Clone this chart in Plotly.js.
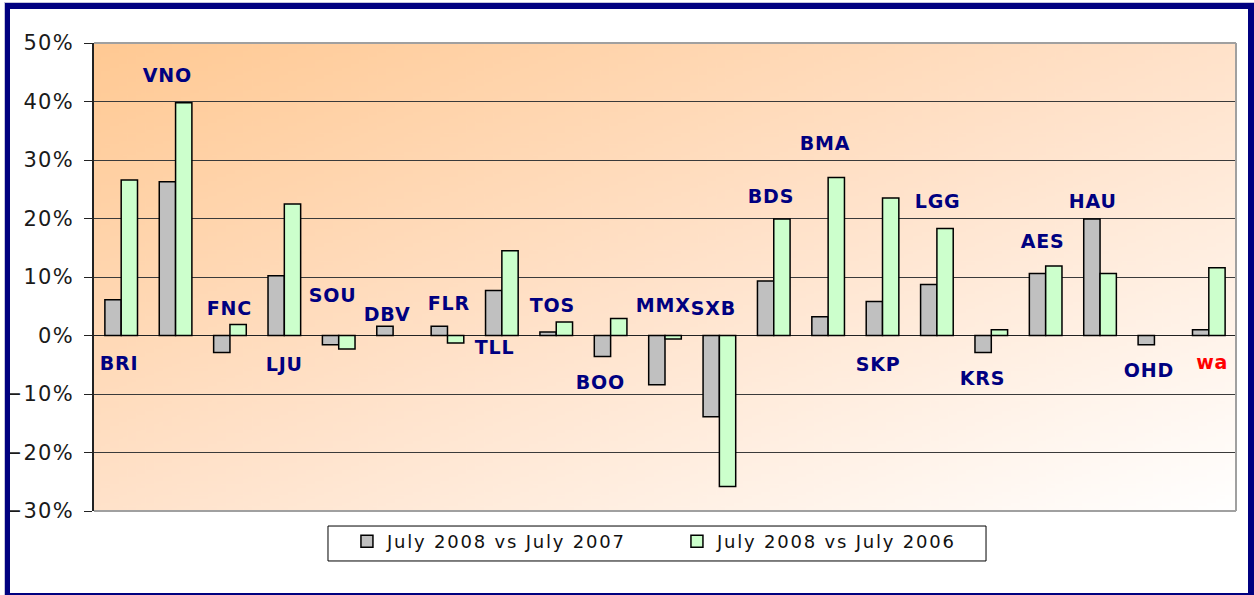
<!DOCTYPE html>
<html>
<head>
<meta charset="utf-8">
<script src="https://cdn.plot.ly/plotly-3.0.1.min.js"></script>
<style>
html,body{margin:0;padding:0;background:#fff;overflow:hidden;width:1254px;height:595px}
#chart{width:1254px;height:595px;position:absolute;left:0;top:0}
#frame{position:absolute;left:5px;top:3px;width:1249px;height:596px;box-sizing:border-box;
  border:6px solid #000080;border-left-width:5px;pointer-events:none;outline:1px solid #c4c4dc}
.main-svg .legendtext{letter-spacing:1.8px}
.main-svg .ytick text{letter-spacing:1.2px}
.main-svg .annotation-text{letter-spacing:0.8px}
</style>
</head>
<body>
<div id="chart"></div>
<div id="frame"></div>
<script>
// ---- data ----
var airports = ["BRI","VNO","FNC","LJU","SOU","DBV","FLR","TLL","TOS","BOO","MMX","SXB","BDS","BMA","SKP","LGG","KRS","AES","HAU","OHD","wa"];
var vs2007 = [6.1, 26.3, -2.9, 10.2, -1.6, 1.6, 1.6, 7.7, 0.6, -3.6, -8.4, -13.9, 9.3, 3.2, 5.8, 8.7, -2.9, 10.6, 19.9, -1.6, 1.0];
var vs2006 = [26.6, 39.8, 1.9, 22.5, -2.3, null, -1.3, 14.5, 2.3, 2.9, -0.6, -25.8, 19.9, 27.0, 23.5, 18.3, 1.0, 11.9, 10.6, null, 11.6];
var seriesNames = ["July 2008 vs July 2007", "July 2008 vs July 2006"];

// ---- label placement (styling) ----
var labelY = [-4.7, 44.5, 4.7, -4.9, 6.9, 3.6, 5.5, -2.0, 5.2, -7.9, 5.2, 4.75, 23.9, 32.9, -4.9, 23.0, -7.2, 16.2, 23.0, -5.9, -4.5];
var labelShift = [-2.5, -7.8, 0, 0, -6, -6, 2, -7, -4, -10, -2, -5.6, -3, -3, -5, 1, -9, -3, -8, -5.5, 3.6];

function gradientURL(){
  var c = document.createElement('canvas'); c.width = 256; c.height = 256;
  var g = c.getContext('2d');
  var gr = g.createLinearGradient(0,0,256,256);
  gr.addColorStop(0,'#FFC993');
  gr.addColorStop(0.5,'#FFE2CA');
  gr.addColorStop(1,'#FFFFFF');
  g.fillStyle = gr; g.fillRect(0,0,256,256);
  return c.toDataURL('image/png');
}

var traces = [
  {type:'bar', name:seriesNames[0], x:airports, y:vs2007,
   marker:{color:'#C0C0C0', line:{color:'#000000', width:1.5}}},
  {type:'bar', name:seriesNames[1], x:airports, y:vs2006,
   marker:{color:'#CCFFCC', line:{color:'#000000', width:1.5}}}
];

var annotations = airports.map(function(a,i){
  return {x:a, y:labelY[i], xref:'x', yref:'y', text:a, showarrow:false, xshift:labelShift[i],
    font:{family:'DejaVu Sans', size:19, weight:'bold', color:(a==='wa'?'#FF0000':'#000080')}};
});

var layout = {
  width:1254, height:595,
  margin:{l:94, r:18, t:43, b:84, pad:0},
  paper_bgcolor:'#ffffff', plot_bgcolor:'rgba(0,0,0,0)',
  barmode:'group', bargap:0.40, bargroupgap:0,
  showlegend:true,
  hovermode:false,
  xaxis:{type:'category', showticklabels:false, showgrid:false, zeroline:false, showline:false, ticks:'', fixedrange:true},
  yaxis:{range:[-30,50], dtick:10, tick0:0, ticksuffix:'%', showgrid:true, gridcolor:'#3a3a3a', gridwidth:1,
    zeroline:true, zerolinecolor:'#222', zerolinewidth:1, showline:true, linecolor:'#222', linewidth:2,
    ticks:'outside', ticklen:8, tickcolor:'#222', tickwidth:1, ticklabelstandoff:6,
    tickfont:{family:'DejaVu Sans', size:21, color:'#1a1a1a'}, fixedrange:true},
  legend:{orientation:'h', x:0.2215, xanchor:'left', y:-0.0256, yanchor:'top',
    borderwidth:0, bgcolor:'rgba(0,0,0,0)', traceorder:'normal',
    entrywidth:285, entrywidthmode:'pixels',
    font:{family:'DejaVu Sans', size:18, color:'#111'}},
  images:[{source:gradientURL(), xref:'paper', yref:'paper', x:0, y:1, sizex:1, sizey:1,
    sizing:'stretch', layer:'below', xanchor:'left', yanchor:'top'}],
  shapes:[
    {type:'line', xref:'paper', yref:'paper', x0:0, x1:1, y0:1, y1:1, line:{color:'#A0A0A0', width:2}, layer:'above'},
    {type:'line', xref:'paper', yref:'paper', x0:1, x1:1, y0:0, y1:1, line:{color:'#A0A0A0', width:2}, layer:'above'},
    {type:'line', xref:'paper', yref:'paper', x0:0, x1:1, y0:0, y1:0, line:{color:'#A0A0A0', width:2}, layer:'above'},
    {type:'rect', xref:'paper', yref:'paper', x0:0.2049, x1:0.7811, y0:-0.1068, y1:-0.0321,
     line:{color:'#000000', width:1}, fillcolor:'#ffffff', layer:'above'}
  ],
  annotations:annotations
};

Plotly.newPlot('chart', traces, layout, {displayModeBar:false, staticPlot:true});
</script>
</body>
</html>
